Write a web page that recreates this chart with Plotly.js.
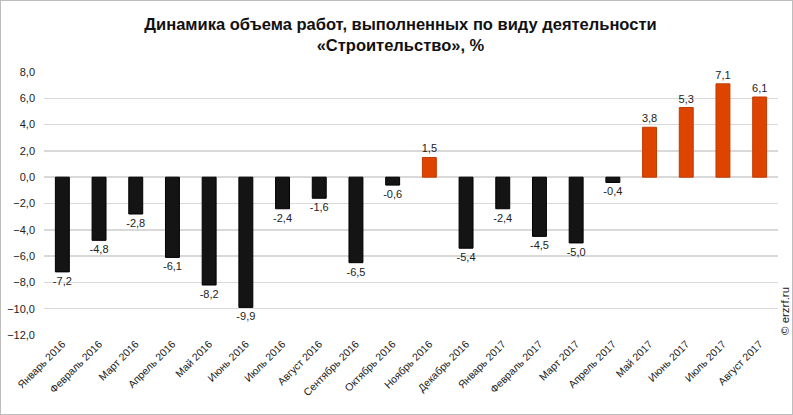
<!DOCTYPE html>
<html><head><meta charset="utf-8">
<script src="https://cdn.plot.ly/plotly-3.0.1.min.js"></script>
<style>html,body{margin:0;padding:0;background:#fff;}#c{width:791px;height:413px;border:1px solid #bdbdbd;}</style>
</head><body><div id="c"></div>
<script>
const categories = ["Январь 2016","Февраль 2016","Март 2016","Апрель 2016","Май 2016","Июнь 2016","Июль 2016","Август 2016","Сентябрь 2016","Октябрь 2016","Ноябрь 2016","Декабрь 2016","Январь 2017","Февраль 2017","Март 2017","Апрель 2017","Май 2017","Июнь 2017","Июль 2017","Август 2017"];
const values = [-7.2,-4.8,-2.8,-6.1,-8.2,-9.9,-2.4,-1.6,-6.5,-0.6,1.5,-5.4,-2.4,-4.5,-5.0,-0.4,3.8,5.3,7.1,6.1];
const yTicks = [-12,-10,-8,-6,-4,-2,0,2,4,6,8];

const fill = values.map(v => v >= 0 ? '#DD4400' : '#141414');
const line = values.map(v => v >= 0 ? '#C23C00' : '#000000');

const font = '"Liberation Sans", Arial, sans-serif';
Plotly.newPlot('c', [{
  type: 'bar', x: categories, y: values,
  marker: {color: fill, line: {color: line, width: 1}},
  width: 0.38,
  text: values, texttemplate: '%{y:.1f}', textposition: 'outside', cliponaxis: false,
  constraintext: 'none',
  textfont: {family: font, size: 11, color: '#222'},
  hoverinfo: 'x+y'
}], {
  width: 791, height: 413,
  margin: {l: 43, r: 14, t: 71, b: 79, pad: 0},
  separators: ',.',
  paper_bgcolor: '#fff', plot_bgcolor: '#fff',
  title: {text: '<b>Динамика объема работ, выполненных по виду деятельности<br>«Строительство», %</b>', x: 0.505, xanchor: 'center', yref: 'container', y: 0.93, yanchor: 'middle', font: {family: font, size: 16.5, color: '#111'}},
  xaxis: {type: 'category', tickangle: -45, tickfont: {family: font, size: 10.5, color: '#222'}, showgrid: false, showline: false, ticks: '', automargin: false},
  yaxis: {range: [-12, 8], tickvals: yTicks, tickformat: '.1f', tickfont: {family: font, size: 11, color: '#222'}, ticklabelstandoff: 8, gridcolor: '#d9d9d9', gridwidth: 1.5, zeroline: true, zerolinecolor: '#d9d9d9', zerolinewidth: 1.5, showline: false, ticks: '', automargin: false},
  showlegend: false,
  bargap: 0.6,
  annotations: [{text: '© erzrf.ru', xref: 'paper', yref: 'paper', x: 1.0095, y: 0.091, xanchor: 'center', yanchor: 'middle', textangle: -90, showarrow: false, font: {family: font, size: 11.5, color: '#222'}}]
}, {displayModeBar: false, staticPlot: true});
</script></body></html>
